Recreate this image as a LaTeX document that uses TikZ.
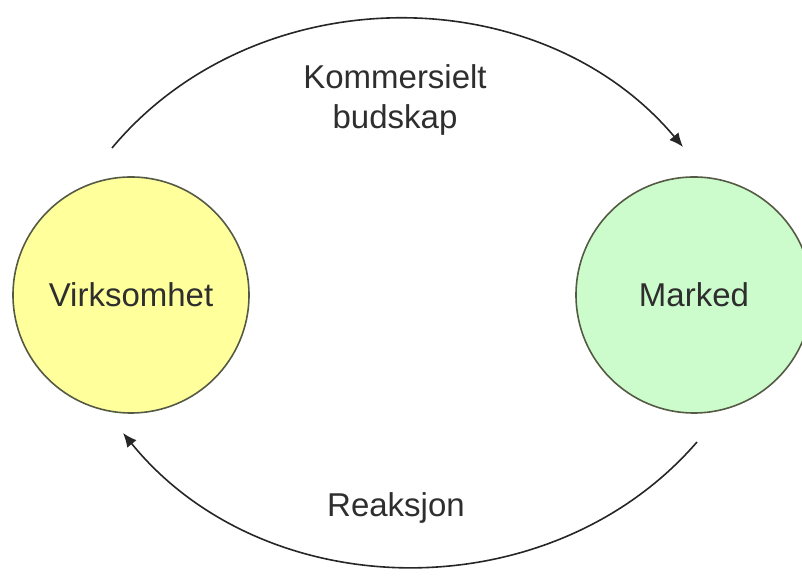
\documentclass[tikz,border=0pt]{standalone}
\usepackage{fontspec}
\setmainfont{Liberation Sans}
\usepackage{tikz}
\usetikzlibrary{arrows.meta}
\definecolor{gulfyll}{HTML}{FFFF9C}
\definecolor{gronnfyll}{HTML}{CCFCCC}
\definecolor{kant}{HTML}{555A45}
\definecolor{tekst}{HTML}{2E2E2E}
\tikzset{
  aktor/.style={circle,draw=kant,line width=0.8pt,minimum size=118pt,inner sep=0pt,
                text=tekst,font=\fontsize{16.5}{20}\selectfont},
  etikett/.style={text=tekst,align=center,font=\fontsize{16.5}{20}\selectfont},
  flyt/.style={line width=0.8pt,draw=black!85,-{Latex[length=7pt,width=6pt]}}
}
\begin{document}
\begin{tikzpicture}[x=0.5pt,y=0.5pt]
\useasboundingbox(0,0)rectangle(802,577);

\node[aktor,fill=gulfyll](vk)at(131,282){Virksomhet};
\node[aktor,fill=gronnfyll](mk)at(694,282){Marked};

\coordinate(k1)at(112,429);
\coordinate(k2)at(683,430);
\coordinate(r1)at(697,135);
\coordinate(r2)at(123,144);

\draw[flyt](k1)to[bend left=50](k2);
\draw[flyt](r1)to[bend left=50](r2);

\node[etikett](budskap)at(395,477){Kommersielt\\budskap};
\node[etikett](reaksjon)at(396,69){Reaksjon};

\end{tikzpicture}
\end{document}
